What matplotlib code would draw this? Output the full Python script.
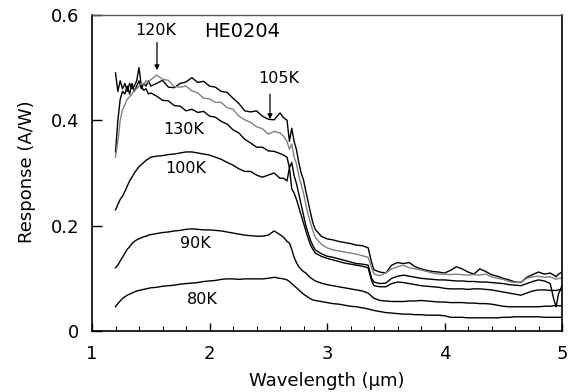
import matplotlib
matplotlib.use("Agg")
import matplotlib.pyplot as plt
from matplotlib.ticker import MultipleLocator, FixedLocator

plt.rcParams['font.family'] = ['DejaVu Sans']

wavelength = [1.20, 1.22, 1.24, 1.26, 1.28, 1.30, 1.32, 1.34, 1.36, 1.38, 1.40, 1.42, 1.44, 1.46, 1.48, 1.50,
              1.55, 1.60, 1.65, 1.70, 1.75, 1.80, 1.85, 1.90, 1.95, 2.00, 2.05, 2.10, 2.15, 2.20, 2.25, 2.30,
              2.35, 2.40, 2.45, 2.50, 2.55, 2.60,
              2.63, 2.66, 2.68, 2.70, 2.72, 2.74, 2.76, 2.78, 2.80, 2.82, 2.84, 2.86, 2.88, 2.90,
              2.95, 3.00, 3.05, 3.10, 3.15, 3.20, 3.25, 3.30, 3.35,
              3.38, 3.40, 3.45, 3.50, 3.55, 3.60, 3.65, 3.70, 3.75, 3.80, 3.85, 3.90, 3.95, 4.00, 4.05, 4.10,
              4.15, 4.20, 4.25, 4.30, 4.35, 4.40, 4.45, 4.50, 4.55, 4.60, 4.65, 4.70, 4.75, 4.80, 4.85, 4.90,
              4.93, 4.95, 4.97, 5.00]

r105 = [0.34, 0.40, 0.44, 0.455, 0.45, 0.465, 0.45, 0.47, 0.455, 0.465, 0.475, 0.46, 0.47, 0.465, 0.475, 0.465,
        0.47, 0.476, 0.463, 0.462, 0.47, 0.473, 0.481, 0.472, 0.474, 0.465, 0.463, 0.455, 0.453, 0.442, 0.432, 0.418,
        0.416, 0.418, 0.408, 0.402, 0.401, 0.414,
        0.405, 0.40, 0.36, 0.385, 0.36, 0.344, 0.32, 0.30, 0.287, 0.265, 0.245, 0.224, 0.205, 0.193,
        0.18, 0.175, 0.173, 0.17, 0.168, 0.166, 0.163, 0.162, 0.158,
        0.13, 0.116, 0.112, 0.11, 0.125, 0.13, 0.128, 0.13, 0.122, 0.118, 0.115, 0.113, 0.112, 0.11, 0.115, 0.122,
        0.118, 0.112, 0.108, 0.118, 0.113, 0.107, 0.104, 0.10, 0.097, 0.093, 0.092, 0.102, 0.107, 0.112, 0.108, 0.11,
        0.106, 0.103, 0.108, 0.112]

r120 = [0.33, 0.36, 0.40, 0.42, 0.43, 0.44, 0.445, 0.45, 0.457, 0.46, 0.465, 0.47, 0.468, 0.475, 0.472, 0.477,
        0.486, 0.478, 0.476, 0.464, 0.463, 0.465, 0.456, 0.452, 0.442, 0.441, 0.434, 0.434, 0.424, 0.421, 0.408, 0.401,
        0.396, 0.388, 0.384, 0.374, 0.379, 0.376,
        0.37, 0.36, 0.345, 0.355, 0.33, 0.318, 0.295, 0.278, 0.262, 0.24, 0.22, 0.205, 0.19, 0.178,
        0.165, 0.158, 0.154, 0.152, 0.15, 0.148, 0.146, 0.143, 0.14,
        0.12, 0.108, 0.105, 0.11, 0.118, 0.122, 0.125, 0.12, 0.118, 0.116, 0.113, 0.11, 0.108, 0.108, 0.107, 0.108,
        0.107, 0.106, 0.107, 0.106, 0.108, 0.103, 0.10, 0.098, 0.094, 0.092, 0.093, 0.10, 0.103, 0.104, 0.102, 0.103,
        0.10, 0.098, 0.10, 0.10]

r130 = [0.49, 0.455, 0.475, 0.46, 0.47, 0.455, 0.47, 0.46, 0.465, 0.475, 0.50, 0.465, 0.457, 0.46, 0.45, 0.452,
        0.446, 0.438, 0.437, 0.428, 0.427, 0.418, 0.421, 0.415, 0.417, 0.408, 0.406, 0.398, 0.393, 0.382, 0.376, 0.364,
        0.357, 0.349, 0.349, 0.342, 0.341, 0.337,
        0.334, 0.33, 0.31, 0.32, 0.295, 0.28, 0.26, 0.24, 0.22, 0.20, 0.186, 0.172, 0.162, 0.154,
        0.147, 0.142, 0.14, 0.137, 0.134, 0.131, 0.128, 0.127, 0.125,
        0.10, 0.093, 0.09, 0.091, 0.10, 0.104, 0.106, 0.104, 0.102, 0.10, 0.099, 0.098, 0.097, 0.097, 0.096, 0.095,
        0.095, 0.094, 0.094, 0.093, 0.093, 0.092, 0.091, 0.09, 0.088, 0.087, 0.086, 0.09, 0.094, 0.097, 0.095, 0.09,
        0.06, 0.046, 0.07, 0.086]

r100 = [0.23, 0.24, 0.25, 0.256, 0.265, 0.275, 0.285, 0.292, 0.30, 0.306, 0.312, 0.316, 0.32, 0.324, 0.327, 0.33,
        0.332, 0.333, 0.335, 0.336, 0.338, 0.34, 0.34, 0.338, 0.336, 0.334, 0.33, 0.326, 0.32, 0.315, 0.308, 0.303,
        0.303, 0.296, 0.292, 0.296, 0.30, 0.29,
        0.29, 0.285, 0.31, 0.27, 0.262, 0.25, 0.235, 0.22, 0.205, 0.19, 0.176, 0.163, 0.155, 0.148,
        0.142, 0.138, 0.135, 0.132, 0.129, 0.127, 0.125, 0.123, 0.12,
        0.095, 0.086, 0.084, 0.084, 0.09, 0.093, 0.092, 0.09, 0.088, 0.086, 0.085, 0.084, 0.083, 0.081, 0.08, 0.08,
        0.08, 0.079, 0.08, 0.08, 0.079, 0.078, 0.076, 0.074, 0.072, 0.07, 0.068, 0.072, 0.076, 0.078, 0.078, 0.077,
        0.077, 0.077, 0.078, 0.078]

r90 = [0.12, 0.125, 0.133, 0.14, 0.148, 0.155, 0.16, 0.166, 0.17, 0.173, 0.175, 0.177, 0.179, 0.18, 0.182, 0.183,
       0.185, 0.187, 0.188, 0.19, 0.191, 0.193, 0.194, 0.193, 0.192, 0.192, 0.191, 0.19, 0.188, 0.186, 0.184, 0.182,
       0.181, 0.18, 0.18, 0.182, 0.19, 0.183,
       0.178, 0.17, 0.167, 0.155, 0.14, 0.13, 0.122, 0.117, 0.113, 0.11, 0.105, 0.101, 0.098, 0.095,
       0.091, 0.088, 0.086, 0.084, 0.082, 0.08, 0.078, 0.076, 0.072,
       0.066, 0.062, 0.058, 0.057, 0.056, 0.056, 0.056, 0.057, 0.057, 0.058, 0.057, 0.056, 0.055, 0.055, 0.054, 0.054,
       0.054, 0.053, 0.053, 0.052, 0.052, 0.051, 0.049, 0.047, 0.046, 0.046, 0.046, 0.046, 0.046, 0.046, 0.047, 0.047,
       0.048, 0.048, 0.048, 0.048]

r80 = [0.046, 0.052, 0.057, 0.062, 0.065, 0.068, 0.07, 0.072, 0.074, 0.076, 0.077, 0.078, 0.079, 0.08, 0.081, 0.082,
       0.083, 0.085, 0.086, 0.087, 0.089, 0.09, 0.091, 0.092, 0.094, 0.095, 0.096, 0.098, 0.099, 0.099, 0.098, 0.099,
       0.099, 0.099, 0.099, 0.10, 0.102, 0.10,
       0.099, 0.097, 0.094, 0.09, 0.086, 0.082, 0.078, 0.074, 0.07, 0.067, 0.064, 0.061, 0.059, 0.058,
       0.056, 0.054, 0.052, 0.051, 0.049, 0.047, 0.046, 0.044, 0.042,
       0.04, 0.039, 0.037, 0.035, 0.034, 0.033, 0.032, 0.032, 0.031, 0.031, 0.03, 0.03, 0.03, 0.029, 0.026, 0.026,
       0.026, 0.025, 0.025, 0.025, 0.025, 0.025, 0.025, 0.026, 0.026, 0.027, 0.027, 0.027, 0.027, 0.027, 0.026, 0.026,
       0.026, 0.026, 0.026, 0.026]

series = [("80K", r80, "black"), ("90K", r90, "black"), ("100K", r100, "black"),
          ("130K", r130, "black"), ("105K", r105, "black"), ("120K", r120, "#808080")]

fig = plt.figure(figsize=(5.74, 3.92), dpi=100)
ax = fig.add_axes([92/574, 61/392, 470/574, 316/392])

for name, vals, col in series:
    ax.plot(wavelength, vals, color=col, lw=1.0)

ax.set_xlim(1, 5)
ax.set_ylim(0, 0.6)
ax.xaxis.set_major_locator(MultipleLocator(1))
ax.xaxis.set_minor_locator(MultipleLocator(0.2))
ax.yaxis.set_major_locator(FixedLocator([0, 0.2, 0.4, 0.6]))
ax.set_yticklabels(["0", "0.2", "0.4", "0.6"])
ax.tick_params(axis='x', which='major', direction='in', length=6, width=1, labelsize=13, pad=10)
ax.tick_params(axis='x', which='minor', direction='in', length=3.5, width=0.8)
ax.tick_params(axis='y', which='major', direction='in', length=7, width=1, labelsize=13, pad=9)
ax.tick_params(top=False, right=False)
for s in ['left', 'bottom', 'right']:
    ax.spines[s].set_linewidth(1.2)
    ax.spines[s].set_color('black')
ax.spines['top'].set_color('#555555')
ax.spines['top'].set_linewidth(1.0)

ax.set_xlabel("Wavelength (\u03bcm)", fontsize=13)
ax.set_ylabel("Response (A/W)", fontsize=13)
ax.xaxis.set_label_coords(0.5, -0.13)
ax.yaxis.set_label_coords(-0.12, 0.503)

ax.text(2.28, 0.568, "HE0204", fontsize=14, ha='center', va='center')
ax.text(1.54, 0.57, "120K", fontsize=11.5, ha='center', va='center')
ax.annotate("", xy=(1.553, 0.49), xytext=(1.553, 0.553),
            arrowprops=dict(arrowstyle='-|>', color='black', lw=0.9, mutation_scale=7))
ax.text(2.59, 0.48, "105K", fontsize=11.5, ha='center', va='center')
ax.annotate("", xy=(2.515, 0.397), xytext=(2.515, 0.455),
            arrowprops=dict(arrowstyle='-|>', color='black', lw=0.9, mutation_scale=7))
ax.text(1.78, 0.382, "130K", fontsize=11.5, ha='center', va='center')
ax.text(1.80, 0.309, "100K", fontsize=11.5, ha='center', va='center')
ax.text(1.88, 0.167, "90K", fontsize=11.5, ha='center', va='center')
ax.text(1.94, 0.059, "80K", fontsize=11.5, ha='center', va='center')

fig.savefig("out.png", dpi=100)
